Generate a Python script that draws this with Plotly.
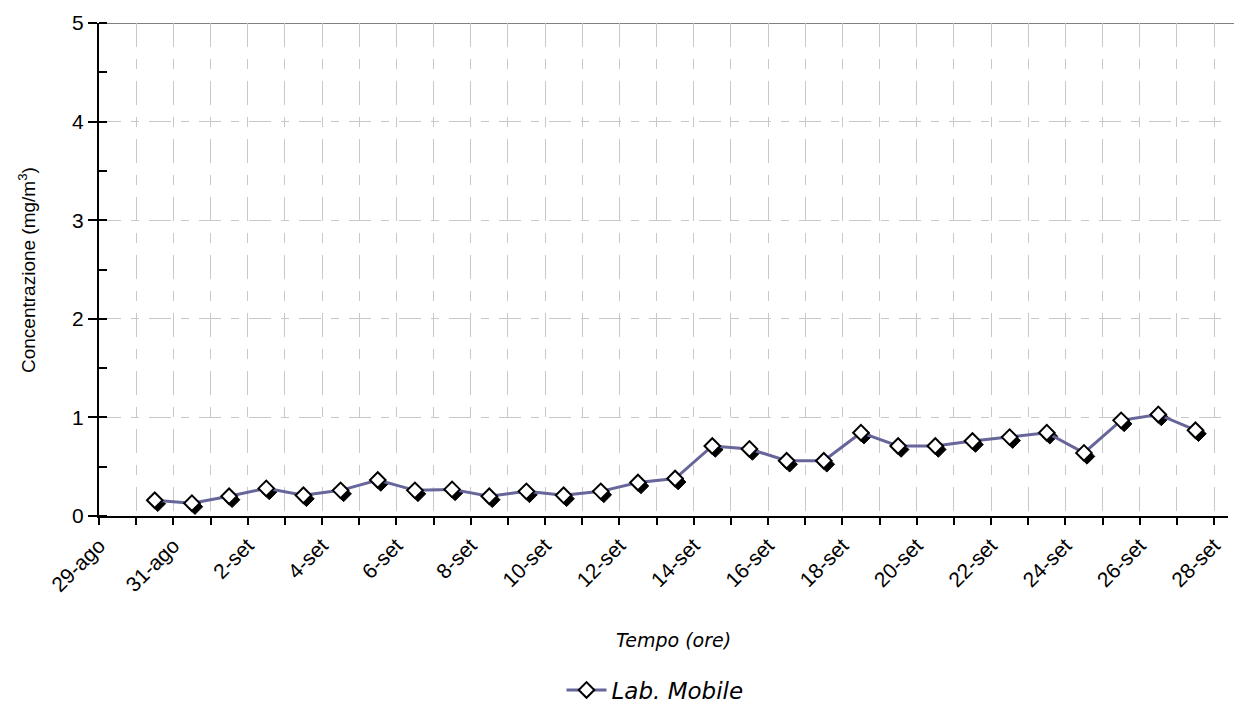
import plotly.graph_objects as go
import pandas as pd

# ---- data ----
start_day = "2008-08-30 12:00"
n_points = 29
values = [0.16, 0.13, 0.20, 0.28, 0.21, 0.26, 0.365, 0.26, 0.27, 0.20,
          0.25, 0.21, 0.25, 0.34, 0.38, 0.71, 0.68, 0.56, 0.56, 0.845,
          0.71, 0.71, 0.76, 0.80, 0.845, 0.64, 0.97, 1.03, 0.87]
series_name = "Lab. Mobile"
tick_dates = pd.date_range("2008-08-29", "2008-09-28", freq="2D")
tick_labels = ["29-ago", "31-ago", "2-set", "4-set", "6-set", "8-set", "10-set",
               "12-set", "14-set", "16-set", "18-set", "20-set", "22-set",
               "24-set", "26-set", "28-set"]
y_ticks = [0, 1, 2, 3, 4, 5]
x_title = "Tempo (ore)"
y_title = "Concentrazione (mg/m<sup>3</sup>)"

x = pd.date_range(start_day, periods=n_points, freq="D")

x_range = [pd.Timestamp("2008-08-29"), pd.Timestamp("2008-09-28 09:00")]
y_range = [0, 5]

# figure sits 8px in from the page corner (default body margin)
OFF = 8
W, H = 1242 - OFF, 706 - OFF
ML, MR, MT, MB = 99 - OFF, 14, 23 - OFF, 190
plot_w = W - ML - MR
plot_h = H - MT - MB


def px_x(sx):
    return (sx - OFF - ML) / plot_w


def px_y(sy):
    return (MT + plot_h - (sy - OFF)) / plot_h


# pixel offsets for the marker shadow
span_ms = (x_range[1] - x_range[0]).total_seconds() * 1000
dx = pd.Timedelta(milliseconds=span_ms * 3 / plot_w)
dy = (y_range[1] - y_range[0]) * 3.5 / plot_h

fig = go.Figure()

# shadow markers (overlay axis shifted by a few pixels)
fig.add_trace(go.Scatter(
    x=x, y=values, mode="markers", xaxis="x2", yaxis="y2",
    marker=dict(symbol="diamond", size=12, color="black",
                line=dict(color="black", width=1)),
    showlegend=False, hoverinfo="skip"))

# main series (overlay axis with same range as the visible axes)
fig.add_trace(go.Scatter(
    x=x, y=values, mode="lines+markers", xaxis="x3", yaxis="y3",
    name="<i>" + series_name + "</i>",
    line=dict(color="#66669a", width=3),
    marker=dict(symbol="diamond", size=12, color="white",
                line=dict(color="black", width=2))))

grid_color = "#c8c8c8"
x_dash = "24px,12px,10px,12px"
fig.update_layout(
    width=W, height=H,
    paper_bgcolor="white", plot_bgcolor="white",
    margin=dict(l=ML, r=MR, t=MT, b=MB),
    font=dict(family="Liberation Sans, Arial, sans-serif", color="black"),
    xaxis=dict(
        type="date", range=x_range, automargin=False,
        tickmode="array", tickvals=tick_dates, ticktext=tick_labels,
        tickangle=-45, tickfont=dict(size=21),
        ticks="outside", ticklen=7, tickcolor="black", tickwidth=1.5,
        minor=dict(tick0=tick_dates[0], dtick=86400000, ticks="outside",
                   ticklen=7, tickcolor="black", tickwidth=1.5,
                   showgrid=True, gridcolor=grid_color, gridwidth=1,
                   griddash=x_dash),
        showline=True, linecolor="black", linewidth=2,
        showgrid=True, gridcolor=grid_color, gridwidth=1,
        griddash=x_dash,
        zeroline=False,
    ),
    yaxis=dict(
        range=y_range, automargin=False,
        tickmode="array", tickvals=y_ticks,
        tickfont=dict(size=21),
        ticks="outside", ticklen=9, tickcolor="black", tickwidth=1.5,
        minor=dict(dtick=0.5, ticks="inside", ticklen=8, tickcolor="black",
                   tickwidth=1.5, showgrid=False),
        showline=True, linecolor="black", linewidth=2,
        showgrid=True, gridcolor=grid_color, gridwidth=1,
        griddash="22px,10px,8px,10px",
        zeroline=False,
    ),
    xaxis2=dict(type="date", overlaying="x",
                range=[x_range[0] - dx, x_range[1] - dx],
                visible=False, showgrid=False),
    yaxis2=dict(overlaying="y", range=[y_range[0] + dy, y_range[1] + dy],
                visible=False, showgrid=False),
    xaxis3=dict(type="date", overlaying="x", range=x_range,
                visible=False, showgrid=False),
    yaxis3=dict(overlaying="y", range=y_range,
                visible=False, showgrid=False),
    legend=dict(orientation="h", xref="paper", x=px_x(655), xanchor="center",
                yref="container", y=1 - (690 - OFF) / H, yanchor="middle",
                itemwidth=40,
                font=dict(size=23, family="DejaVu Sans, Verdana, sans-serif")),
    showlegend=True,
)

# axis titles
fig.add_annotation(
    text="<i>" + x_title + "</i>", xref="paper", yref="paper",
    x=px_x(673), y=px_y(640),
    showarrow=False, xanchor="center", yanchor="middle",
    font=dict(size=19, family="DejaVu Sans, Verdana, sans-serif"))
fig.add_annotation(
    text=y_title, xref="paper", yref="paper",
    x=px_x(27), y=px_y(270),
    showarrow=False, xanchor="center", yanchor="middle", textangle=-90,
    font=dict(size=19, family="Liberation Sans, Arial, sans-serif"))

fig.add_shape(type="line", xref="paper", yref="y", x0=0, x1=px_x(1242),
              y0=5, y1=5, line=dict(color="#808080", width=2), layer="below")

fig.write_html("out.html")
